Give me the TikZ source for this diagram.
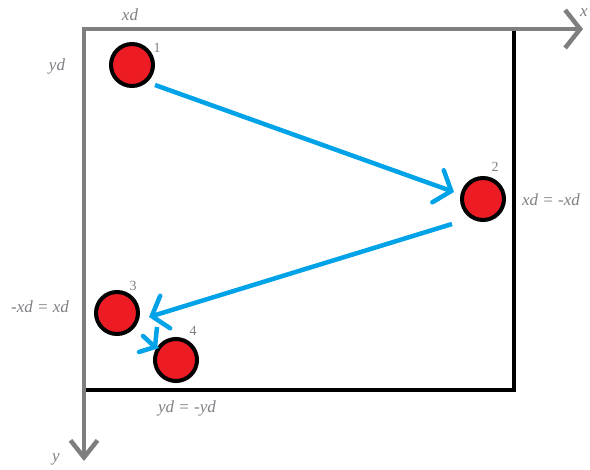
\documentclass[tikz,border=0pt]{standalone}
\usepackage{fontspec}
\setmainfont{Liberation Serif}
\usetikzlibrary{arrows.meta}
\definecolor{paintred}{RGB}{237,28,36}
\definecolor{paintblue}{RGB}{0,162,232}
\definecolor{axisgray}{RGB}{127,127,127}
\definecolor{textgray}{RGB}{128,128,134}
\begin{document}
\begin{tikzpicture}[x=1pt,y=-1pt,
  ball/.style={circle,draw=black,fill=paintred,line width=4pt,minimum size=42pt,inner sep=0pt},
  axisline/.style={draw=axisgray,line width=4.5pt},
  frameline/.style={draw=black,line width=3.6pt},
  movearrow/.style={draw=paintblue,line width=4.5pt,-{Straight Barb[length=14pt,width=34pt,line cap=round]}},
  lbl/.style={text=textgray,font=\fontsize{17}{19}\selectfont\itshape,inner sep=0pt},
  num/.style={text=textgray,font=\fontsize{14}{16}\selectfont,inner sep=0pt}]
\useasboundingbox (0,0) rectangle (590,470);
\fill[white] (0,0) rectangle (590,470);
% frame
\draw[frameline] (84,29) -- (514,29) -- (514,390) -- (84,390);
% axes
\draw[axisline,{Straight Barb[length=15pt,width=38pt,line width=4.5pt]}-{Straight Barb[length=17pt,width=27pt,line width=4.5pt]}] (583,29) -- (84,29) -- (84,461);
% balls
\node[ball] (b1) at (132,65) {};
\node[ball] (b2) at (483,199) {};
\node[ball] (b3) at (117,313) {};
\node[ball] (b4) at (176,360) {};
% numbers
\node[num] (n1) at (157,48) {1};
\node[num] (n2) at (495,167) {2};
\node[num] (n3) at (133,286) {3};
\node[num] (n4) at (193,331) {4};
% labels
\node[lbl] (lxd) at (130,15) {xd};
\node[lbl] (lyd) at (57,66) {yd};
\node[lbl] (lx) at (584,13) {x};
\node[lbl] (ly) at (56,459) {y};
\node[lbl] (l2) at (551,200) {xd = -xd};
\node[lbl] (l3) at (40,307) {-xd = xd};
\node[lbl] (l4) at (187,408) {yd = -yd};
% connectors
\coordinate (s12) at (155,85);
\coordinate (t12) at (454,192);
\coordinate (s23) at (452,224);
\coordinate (t23) at (149,317);
\coordinate (s34) at (157,327);
\coordinate (t34) at (155,347);
\coordinate (h34a) at (143,336);
\coordinate (h34b) at (139,352);
\draw[movearrow] (s12) -- (t12);
\draw[movearrow] (s23) -- (t23);
\draw[draw=paintblue,line width=4.5pt] (s34) -- (t34);
\draw[draw=paintblue,line width=4.5pt,line cap=round,line join=miter] (h34a) -- (t34) -- (h34b);
\end{tikzpicture}
\end{document}
